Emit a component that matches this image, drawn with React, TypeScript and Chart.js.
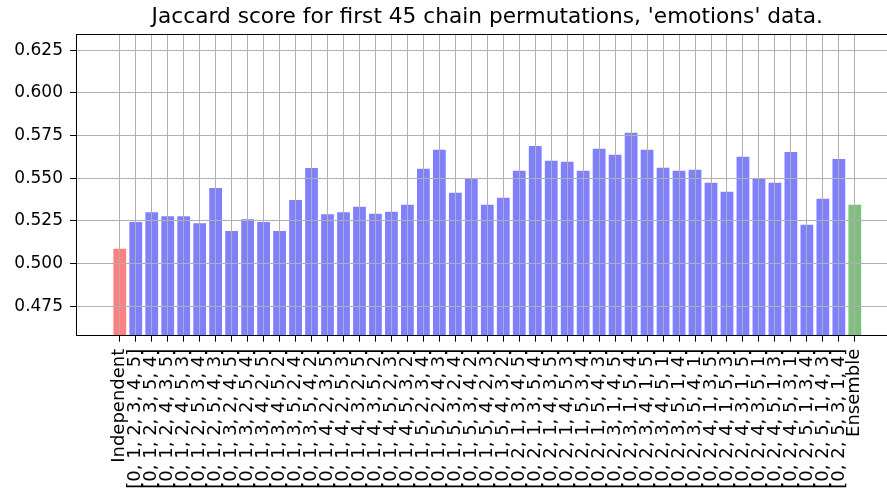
import React, { useEffect, useRef } from "react";
import { Chart, registerables } from "chart.js";

Chart.register(...registerables);

const categories: string[] = [
  "Independent",
  "[0, 1, 2, 3, 4, 5]",
  "[0, 1, 2, 3, 5, 4]",
  "[0, 1, 2, 4, 3, 5]",
  "[0, 1, 2, 4, 5, 3]",
  "[0, 1, 2, 5, 3, 4]",
  "[0, 1, 2, 5, 4, 3]",
  "[0, 1, 3, 2, 4, 5]",
  "[0, 1, 3, 2, 5, 4]",
  "[0, 1, 3, 4, 2, 5]",
  "[0, 1, 3, 4, 5, 2]",
  "[0, 1, 3, 5, 2, 4]",
  "[0, 1, 3, 5, 4, 2]",
  "[0, 1, 4, 2, 3, 5]",
  "[0, 1, 4, 2, 5, 3]",
  "[0, 1, 4, 3, 2, 5]",
  "[0, 1, 4, 3, 5, 2]",
  "[0, 1, 4, 5, 2, 3]",
  "[0, 1, 4, 5, 3, 2]",
  "[0, 1, 5, 2, 3, 4]",
  "[0, 1, 5, 2, 4, 3]",
  "[0, 1, 5, 3, 2, 4]",
  "[0, 1, 5, 3, 4, 2]",
  "[0, 1, 5, 4, 2, 3]",
  "[0, 1, 5, 4, 3, 2]",
  "[0, 2, 1, 3, 4, 5]",
  "[0, 2, 1, 3, 5, 4]",
  "[0, 2, 1, 4, 3, 5]",
  "[0, 2, 1, 4, 5, 3]",
  "[0, 2, 1, 5, 3, 4]",
  "[0, 2, 1, 5, 4, 3]",
  "[0, 2, 3, 1, 4, 5]",
  "[0, 2, 3, 1, 5, 4]",
  "[0, 2, 3, 4, 1, 5]",
  "[0, 2, 3, 4, 5, 1]",
  "[0, 2, 3, 5, 1, 4]",
  "[0, 2, 3, 5, 4, 1]",
  "[0, 2, 4, 1, 3, 5]",
  "[0, 2, 4, 1, 5, 3]",
  "[0, 2, 4, 3, 1, 5]",
  "[0, 2, 4, 3, 5, 1]",
  "[0, 2, 4, 5, 1, 3]",
  "[0, 2, 4, 5, 3, 1]",
  "[0, 2, 5, 1, 3, 4]",
  "[0, 2, 5, 1, 4, 3]",
  "[0, 2, 5, 3, 1, 4]",
  "Ensemble",
];

const independentScore: number[] = [0.5086];

const chainScores: number[] = [
  0.5244, 0.5301, 0.5277, 0.5277, 0.5236, 0.5443, 0.519, 0.526, 0.5244,
  0.519, 0.5372, 0.556, 0.5289, 0.5301, 0.5332, 0.5291, 0.5303, 0.5344,
  0.5555, 0.5666, 0.5414, 0.5496, 0.5344, 0.5385, 0.5543, 0.5689, 0.5602,
  0.5596, 0.5543, 0.5672, 0.5637, 0.5766, 0.5666, 0.5561, 0.5543, 0.5549,
  0.5473, 0.542, 0.5625, 0.5496, 0.5473, 0.5654, 0.5227, 0.5379, 0.5613,
];

const ensembleScore: number[] = [0.5344];

const yTickValues: number[] = [0.475, 0.5, 0.525, 0.55, 0.575, 0.6, 0.625];

const TITLE = "Jaccard score for first 45 chain permutations, 'emotions' data.";

const FONT = "'DejaVu Sans', sans-serif";

const framePlugin = {
  id: "frame",
  afterDraw(chart: any) {
    const { ctx, chartArea } = chart;
    ctx.save();
    ctx.strokeStyle = "#000";
    ctx.lineWidth = 1;
    ctx.beginPath();
    const t = Math.round(chartArea.top) + 0.5;
    const r = Math.round(chartArea.right) + 0.5;
    ctx.moveTo(Math.round(chartArea.left), t);
    ctx.lineTo(r, t);
    ctx.lineTo(r, chartArea.bottom);
    ctx.stroke();
    ctx.restore();
  },
};

export default function App() {
  const canvasRef = useRef<HTMLCanvasElement | null>(null);

  useEffect(() => {
    const canvas = canvasRef.current;
    if (!canvas) return;

    const values = [...independentScore, ...chainScores, ...ensembleScore];
    const colors = values.map((_, i) =>
      i === 0 ? "#ff8080" : i === values.length - 1 ? "#80bf80" : "#8080ff"
    );
    const points = values.map((v, i) => ({ x: i, y: v }));
    const minVal = Math.min(...values);
    const maxVal = Math.max(...values);

    const chart = new Chart(canvas, {
      type: "bar",
      data: {
        datasets: [
          {
            data: points as any,
            backgroundColor: colors,
            borderWidth: 0,
            barPercentage: 0.8,
            categoryPercentage: 1.0,
          },
        ],
      },
      options: {
        animation: false,
        responsive: false,
        devicePixelRatio: 1,
        layout: { padding: { top: 0, left: 0, right: 1.4, bottom: 0 } },
        font: { family: FONT },
        plugins: {
          legend: { display: false },
          tooltip: { enabled: false },
          title: {
            display: true,
            text: TITLE,
            fullSize: false,
            color: "#000",
            font: { family: FONT, size: 21.7, weight: "normal" },
            padding: { top: 4, bottom: 4.3 },
          },
        },
        scales: {
          x: {
            type: "linear",
            min: -2.74,
            max: categories.length + 1.74,
            offset: false,
            afterBuildTicks: (scale: any) => {
              scale.ticks = categories.map((_, i) => ({ value: i }));
            },
            afterFit: (scale: any) => {
              scale.height = 153.3;
            },
            grid: {
              offset: false,
              color: "#b0b0b0",
              lineWidth: 1,
              z: 1,
              drawTicks: true,
              tickLength: 6,
              tickColor: "#000",
              tickWidth: 1,
            },
            border: { display: true, color: "#000", width: 1, z: 2 },
            ticks: {
              autoSkip: false,
              minRotation: 90,
              maxRotation: 90,
              padding: 7,
              color: "#000",
              font: { family: FONT, size: 18 },
              callback: (v: any) => categories[Number(v)] ?? "",
            },
          },
          y: {
            type: "linear",
            min: minVal * 0.9,
            max: maxVal * 1.1,
            afterBuildTicks: (scale: any) => {
              scale.ticks = yTickValues.map((v) => ({ value: v }));
            },
            afterFit: (scale: any) => {
              scale.width = 76;
            },
            grid: {
              color: "#b0b0b0",
              lineWidth: 1,
              z: 1,
              drawTicks: true,
              tickLength: 6,
              tickColor: "#000",
              tickWidth: 1,
            },
            border: { display: true, color: "#000", width: 1, z: 2 },
            ticks: {
              padding: 7,
              color: "#000",
              font: { family: FONT, size: 17 },
              callback: (v: any) => Number(v).toFixed(3),
            },
          },
        },
      },
      plugins: [framePlugin],
    });

    return () => chart.destroy();
  }, []);

  return (
    <div
      style={{
        position: "fixed",
        left: 0,
        top: 0,
        width: 887,
        height: 489,
        overflow: "hidden",
        background: "#fff",
      }}
    >
      <canvas
        ref={canvasRef}
        width={900}
        height={489}
        style={{ display: "block", width: 900, height: 489 }}
      />
    </div>
  );
}
